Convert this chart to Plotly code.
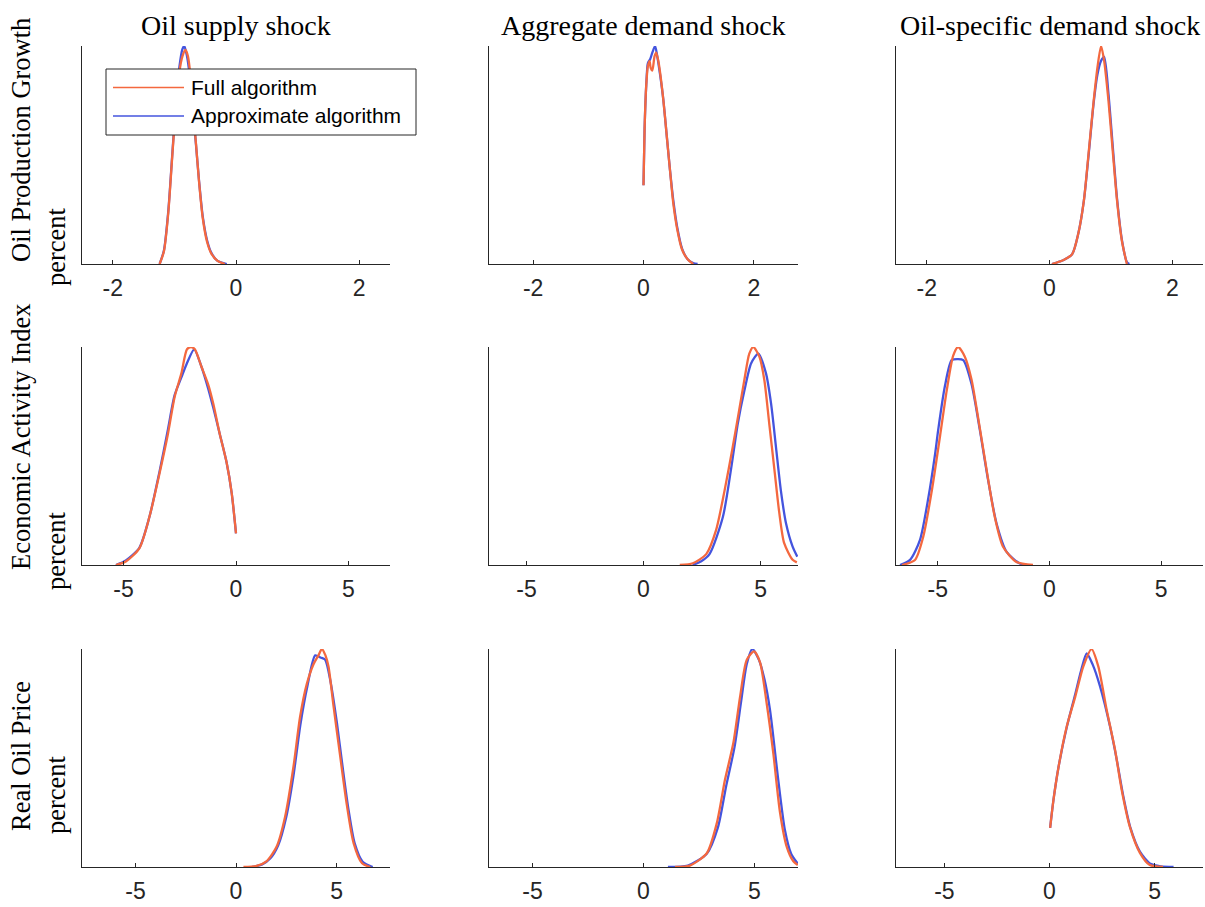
import plotly.graph_objects as go

# Column / row labels
shock_titles = ["Oil supply shock", "Aggregate demand shock", "Oil-specific demand shock"]
variable_names = ["Oil Production Growth", "Economic Activity Index", "Real Oil Price"]
unit_label = "percent"
legend_names = ["Full algorithm", "Approximate algorithm"]

# Symmetric x-limits of each panel (row by row) and tick values per row
x_half_width = [[2.5, 2.8, 2.5], [6.85, 6.6, 6.87], [7.66, 6.96, 7.3]]
row_ticks = [[-2, 0, 2], [-5, 0, 5], [-5, 0, 5]]

# ---- Oil production growth ----
prod_supply_x_full = [-1.24, -1.17, -1.10, -1.04, -0.98, -0.92, -0.87, -0.82, -0.78, -0.74, -0.70, -0.65, -0.60, -0.54, -0.47, -0.40, -0.30, -0.18]
prod_supply_y_full = [0.0, 0.16, 0.64, 1.30, 1.95, 2.42, 2.62, 2.70, 2.62, 2.38, 1.98, 1.52, 1.04, 0.58, 0.28, 0.13, 0.04, 0.0]
prod_supply_x_approx = [-1.24, -1.17, -1.10, -1.04, -0.98, -0.92, -0.87, -0.84, -0.80, -0.75, -0.70, -0.65, -0.60, -0.54, -0.47, -0.40, -0.30, -0.15]
prod_supply_y_approx = [0.0, 0.17, 0.66, 1.32, 1.98, 2.48, 2.71, 2.75, 2.64, 2.37, 1.93, 1.51, 1.05, 0.60, 0.30, 0.14, 0.04, 0.0]

prod_demand_x_full = [0.00, 0.02, 0.05, 0.08, 0.11, 0.13, 0.16, 0.20, 0.23, 0.27, 0.31, 0.36, 0.42, 0.48, 0.54, 0.61, 0.70, 0.80, 0.90]
prod_demand_y_full = [0.83, 1.43, 1.89, 2.09, 2.14, 2.07, 2.04, 2.19, 2.23, 2.14, 1.98, 1.73, 1.36, 0.99, 0.64, 0.37, 0.15, 0.05, 0.0]
prod_demand_x_approx = [0.00, 0.02, 0.05, 0.08, 0.12, 0.16, 0.21, 0.25, 0.30, 0.36, 0.42, 0.48, 0.54, 0.61, 0.70, 0.80, 0.90, 0.98]
prod_demand_y_approx = [0.83, 1.43, 1.89, 2.12, 2.16, 2.23, 2.30, 2.19, 2.00, 1.73, 1.36, 0.99, 0.67, 0.39, 0.16, 0.05, 0.01, 0.0]

prod_oilspec_x_full = [0.04, 0.23, 0.37, 0.47, 0.56, 0.64, 0.72, 0.78, 0.84, 0.89, 0.96, 1.03, 1.10, 1.18, 1.26]
prod_oilspec_y_full = [0.0, 0.04, 0.10, 0.31, 0.64, 1.14, 1.65, 1.98, 2.20, 2.05, 1.65, 1.14, 0.64, 0.23, 0.0]
prod_oilspec_x_approx = [0.04, 0.23, 0.37, 0.47, 0.56, 0.64, 0.72, 0.78, 0.84, 0.89, 0.96, 1.03, 1.10, 1.18, 1.26, 1.30]
prod_oilspec_y_approx = [0.0, 0.04, 0.10, 0.31, 0.64, 1.12, 1.63, 1.91, 2.05, 2.09, 1.72, 1.19, 0.66, 0.24, 0.02, 0.0]

# ---- Economic activity index ----
econ_supply_x_full = [-5.34, -4.9, -4.3, -3.85, -3.4, -3.03, -2.73, -2.43, -2.18, -2.0, -1.83, -1.54, -1.24, -1.01, -0.72, -0.42, -0.19, 0.0]
econ_supply_y_full = [0.0, 0.006, 0.029, 0.084, 0.160, 0.228, 0.293, 0.334, 0.376, 0.380, 0.376, 0.346, 0.315, 0.281, 0.228, 0.179, 0.125, 0.055]
econ_supply_x_approx = [-5.34, -4.9, -4.3, -3.85, -3.4, -3.03, -2.73, -2.43, -2.2, -1.86, -1.54, -1.24, -1.01, -0.72, -0.42, -0.19, 0.0]
econ_supply_y_approx = [0.0, 0.008, 0.030, 0.084, 0.163, 0.236, 0.296, 0.327, 0.350, 0.376, 0.346, 0.308, 0.274, 0.228, 0.179, 0.125, 0.055]

econ_demand_x_full = [1.55, 2.11, 2.68, 3.1, 3.46, 3.81, 4.07, 4.31, 4.52, 4.69, 4.95, 5.16, 5.37, 5.59, 5.8, 6.01, 6.37, 6.55]
econ_demand_y_full = [0.0, 0.004, 0.025, 0.08, 0.17, 0.27, 0.35, 0.425, 0.485, 0.50, 0.478, 0.425, 0.325, 0.22, 0.12, 0.05, 0.012, 0.006]
econ_demand_x_approx = [2.1, 2.45, 2.82, 3.39, 3.74, 4.03, 4.31, 4.6, 4.91, 5.23, 5.45, 5.66, 5.87, 6.09, 6.37, 6.57]
econ_demand_y_approx = [0.0, 0.008, 0.025, 0.11, 0.22, 0.325, 0.40, 0.463, 0.485, 0.44, 0.37, 0.27, 0.17, 0.095, 0.042, 0.019]

econ_oilspec_x_full = [-6.6, -6.02, -5.65, -5.27, -4.9, -4.6, -4.31, -4.09, -3.79, -3.49, -3.2, -2.82, -2.45, -2.08, -1.48, -0.74]
econ_oilspec_y_full = [0.0, 0.010, 0.056, 0.146, 0.254, 0.344, 0.413, 0.43, 0.411, 0.366, 0.292, 0.189, 0.095, 0.036, 0.006, 0.0]
econ_oilspec_x_approx = [-6.69, -6.24, -5.8, -5.42, -5.12, -4.98, -4.68, -4.38, -4.1, -3.86, -3.49, -3.12, -2.75, -2.37, -1.92, -1.33, -1.0]
econ_oilspec_y_approx = [0.0, 0.010, 0.049, 0.133, 0.219, 0.267, 0.353, 0.404, 0.406, 0.404, 0.357, 0.267, 0.168, 0.082, 0.026, 0.003, 0.0]

# ---- Real oil price ----
price_supply_x_full = [0.37, 1.03, 1.53, 2.03, 2.44, 2.86, 3.19, 3.52, 3.85, 4.1, 4.27, 4.45, 4.6, 4.85, 5.18, 5.52, 5.85, 6.27, 6.68]
price_supply_y_full = [0.0, 0.002, 0.011, 0.039, 0.094, 0.189, 0.283, 0.344, 0.381, 0.398, 0.41, 0.398, 0.377, 0.303, 0.209, 0.115, 0.045, 0.007, 0.0]
price_supply_x_approx = [0.8, 1.3, 1.7, 2.1, 2.5, 2.86, 3.2, 3.55, 3.94, 4.2, 4.43, 4.7, 5.02, 5.3, 5.6, 5.9, 6.3, 6.8]
price_supply_y_approx = [0.0, 0.005, 0.016, 0.041, 0.094, 0.172, 0.267, 0.340, 0.398, 0.394, 0.390, 0.349, 0.271, 0.189, 0.107, 0.045, 0.010, 0.0]

price_demand_x_full = [1.42, 2.09, 2.85, 3.3, 3.67, 4.05, 4.35, 4.65, 4.98, 5.25, 5.55, 5.85, 6.15, 6.45, 6.75, 6.95]
price_demand_y_full = [0.0, 0.003, 0.029, 0.092, 0.184, 0.262, 0.359, 0.437, 0.455, 0.432, 0.345, 0.239, 0.115, 0.043, 0.012, 0.004]
price_demand_x_approx = [1.1, 2.0, 2.85, 3.35, 3.72, 4.1, 4.4, 4.65, 4.9, 5.2, 5.45, 5.7, 6.07, 6.37, 6.65, 6.95]
price_demand_y_approx = [0.0, 0.003, 0.028, 0.083, 0.170, 0.253, 0.350, 0.428, 0.46, 0.437, 0.396, 0.331, 0.184, 0.078, 0.028, 0.007]

price_oilspec_x_full = [0.03, 0.19, 0.43, 0.82, 1.22, 1.61, 2.0, 2.32, 2.72, 3.11, 3.43, 3.82, 4.3, 4.77, 5.4]
price_oilspec_y_full = [0.061, 0.105, 0.156, 0.219, 0.265, 0.313, 0.34, 0.313, 0.245, 0.184, 0.121, 0.063, 0.022, 0.003, 0.0]
price_oilspec_x_approx = [0.03, 0.19, 0.43, 0.82, 1.22, 1.5, 1.77, 2.05, 2.4, 2.88, 3.2, 3.5, 3.85, 4.3, 4.8, 5.3, 5.9]
price_oilspec_y_approx = [0.061, 0.105, 0.156, 0.218, 0.269, 0.306, 0.333, 0.316, 0.282, 0.219, 0.167, 0.112, 0.061, 0.024, 0.005, 0.001, 0.0]

panels = [
    [(prod_supply_x_full, prod_supply_y_full, prod_supply_x_approx, prod_supply_y_approx),
     (prod_demand_x_full, prod_demand_y_full, prod_demand_x_approx, prod_demand_y_approx),
     (prod_oilspec_x_full, prod_oilspec_y_full, prod_oilspec_x_approx, prod_oilspec_y_approx)],
    [(econ_supply_x_full, econ_supply_y_full, econ_supply_x_approx, econ_supply_y_approx),
     (econ_demand_x_full, econ_demand_y_full, econ_demand_x_approx, econ_demand_y_approx),
     (econ_oilspec_x_full, econ_oilspec_y_full, econ_oilspec_x_approx, econ_oilspec_y_approx)],
    [(price_supply_x_full, price_supply_y_full, price_supply_x_approx, price_supply_y_approx),
     (price_demand_x_full, price_demand_y_full, price_demand_x_approx, price_demand_y_approx),
     (price_oilspec_x_full, price_oilspec_y_full, price_oilspec_x_approx, price_oilspec_y_approx)],
]

# ---- styling / geometry ----
W, H = 1205, 907
FULL_COLOR = "#F4683F"
APPROX_COLOR = "#4454DE"
AXIS_COLOR = "#262626"
SANS = "Liberation Sans, Arial, sans-serif"
SERIF = "Liberation Serif, Times New Roman, serif"

col_px = [(82, 390), (489, 798), (896, 1203)]
row_px = [(46, 264), (347, 565), (649, 867)]


def px_x(v):
    return v / W


def px_y(v):
    return 1 - v / H


fig = go.Figure()
layout_axes = {}

for r in range(3):
    for c in range(3):
        k = r * 3 + c + 1
        xa = "x" if k == 1 else f"x{k}"
        ya = "y" if k == 1 else f"y{k}"
        xf, yf, xa_, ya_ = panels[r][c]
        fig.add_trace(go.Scatter(
            x=xa_, y=ya_, mode="lines", name=legend_names[1],
            line=dict(color=APPROX_COLOR, width=2.3, shape="spline", smoothing=0.7),
            xaxis=xa, yaxis=ya, showlegend=False, hoverinfo="skip"))
        fig.add_trace(go.Scatter(
            x=xf, y=yf, mode="lines", name=legend_names[0],
            line=dict(color=FULL_COLOR, width=2.3, shape="spline", smoothing=0.7),
            xaxis=xa, yaxis=ya, showlegend=False, hoverinfo="skip"))

        hw = x_half_width[r][c]
        ymax = max(max(yf), max(ya_))
        xname = "xaxis" if k == 1 else f"xaxis{k}"
        yname = "yaxis" if k == 1 else f"yaxis{k}"
        layout_axes[xname] = dict(
            domain=[px_x(col_px[c][0]), px_x(col_px[c][1])],
            range=[-hw, hw], anchor=ya,
            tickvals=row_ticks[r], ticktext=[str(t) for t in row_ticks[r]],
            ticks="inside", ticklen=4, tickwidth=1, tickcolor=AXIS_COLOR,
            showline=True, linecolor=AXIS_COLOR, linewidth=1,
            showgrid=False, zeroline=False, ticklabelstandoff=3,
            tickfont=dict(family=SANS, size=23, color=AXIS_COLOR),
        )
        layout_axes[yname] = dict(
            domain=[px_y(row_px[r][1]), px_y(row_px[r][0])],
            range=[0, ymax], anchor=xa,
            showline=True, linecolor=AXIS_COLOR, linewidth=1,
            showticklabels=False, ticks="", showgrid=False, zeroline=False,
        )

annotations = []
# column titles
for c in range(3):
    annotations.append(dict(
        text=shock_titles[c], xref="paper", yref="paper",
        x=px_x((col_px[c][0] + col_px[c][1]) / 2), y=px_y(43),
        xanchor="center", yanchor="bottom", showarrow=False,
        font=dict(family=SERIF, size=28, color="#000000")))

# two-line row labels (variable name, then unit)
label_line1_y = [140, 437, 756]
label_line2_y = [247, 551, 795]
for r in range(3):
    annotations.append(dict(
        text=variable_names[r], xref="paper", yref="paper",
        x=px_x(21), y=px_y(label_line1_y[r]), textangle=-90,
        xanchor="center", yanchor="middle", showarrow=False,
        font=dict(family=SERIF, size=26.5, color="#000000")))
    annotations.append(dict(
        text=unit_label, xref="paper", yref="paper",
        x=px_x(56), y=px_y(label_line2_y[r]), textangle=-90,
        xanchor="center", yanchor="middle", showarrow=False,
        font=dict(family=SERIF, size=26.5, color="#000000")))

# legend box drawn on the first panel
legend_rows_y = [87.5, 116]
legend_colors = [FULL_COLOR, APPROX_COLOR]
shapes = [dict(type="rect", xref="paper", yref="paper",
               x0=px_x(106), x1=px_x(416), y0=px_y(135), y1=px_y(69),
               fillcolor="white", line=dict(color=AXIS_COLOR, width=1), layer="above")]
for i in range(2):
    shapes.append(dict(type="line", xref="paper", yref="paper",
                       x0=px_x(113), x1=px_x(184), y0=px_y(legend_rows_y[i]), y1=px_y(legend_rows_y[i]),
                       line=dict(color=legend_colors[i], width=1.6), layer="above"))
    annotations.append(dict(
        text=legend_names[i], xref="paper", yref="paper",
        x=px_x(189), y=px_y(legend_rows_y[i]), xanchor="left", yanchor="middle",
        showarrow=False, font=dict(family=SANS, size=21, color="#000000")))

fig.update_layout(
    width=W, height=H, margin=dict(l=0, r=0, t=0, b=0),
    paper_bgcolor="white", plot_bgcolor="white",
    showlegend=False, annotations=annotations, shapes=shapes,
    **layout_axes,
)

fig.write_html("out.html")
